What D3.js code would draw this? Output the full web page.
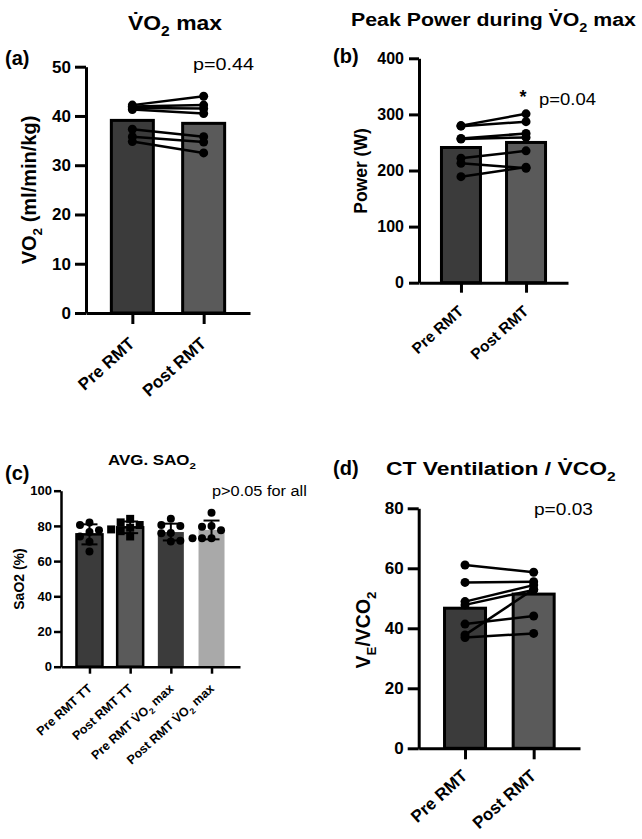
<!DOCTYPE html>
<html>
<head>
<meta charset="utf-8">
<script src="https://cdn.jsdelivr.net/npm/d3@7"></script>
<style>
  body { margin: 0; background: #fff; }
</style>
</head>
<body>
<script>
const FONT = "'Liberation Sans', Arial, Helvetica, sans-serif"

// paired categories used by panels a, b, d
const pairedCats = ['Pre RMT', 'Post RMT']
const pairedFill = ['#3b3b3b', '#5a5a5a']

// (a) VO2 max, ml/min/kg
const vo2Pre = [42.2, 41.9, 41.6, 41.3, 37.3, 35.8, 34.8]
const vo2Post = [44.0, 42.2, 41.5, 40.5, 35.8, 34.7, 32.5]
const vo2Means = [39.1, 38.5]

// (b) peak power, W
const powerPre = [280, 279, 257, 256, 222, 213, 189]
const powerPost = [301, 287, 266, 259, 235, 204, 206]
const powerMeans = [241, 250]

// (c) average SaO2, %
const saoCats = ['Pre RMT TT', 'Post RMT TT', 'Pre RMT V\u0307O_2 max', 'Post RMT V\u0307O_2 max']
const saoPreTT = [82, 80.5, 77.5, 76.5, 74, 71, 65.5]
const saoPostTT = [84, 82, 80.5, 79, 78, 77, 74]
const saoPreVO2 = [84, 80.5, 80, 76, 75.8, 71.5, 71.2]
const saoPostVO2 = [87.5, 80, 79.5, 77.5, 73, 73, 73]
const saoMeans = [75.2, 79.2, 76.5, 77.7]
const saoFill = ['#3b3b3b', '#5a5a5a', '#3b3b3b', '#a9a9a9']

// (d) VE/VCO2
const vePre = [61.1, 55.3, 48.9, 47.8, 41.4, 37.8, 36.9]
const vePost = [58.7, 55.5, 54.4, 52.8, 44.1, 53.0, 38.3]
const veMeans = [46.7, 51.4]

const svg = d3.select('body').append('svg')
  .attr('width', 642).attr('height', 839)
  .style('font-family', FONT)

// text with "_x" subscripts
function rich(text, str, size) {
  text.text(null)
  const parts = str.split(/_(\w)/)
  let shifted = false
  parts.forEach((p, i) => {
    const sub = i % 2 === 1
    if (!p) return
    const t = text.append('tspan').text(p)
    if (sub) {
      t.attr('font-size', size * 0.68).attr('dy', size * 0.3)
      shifted = true
    } else if (shifted) {
      t.attr('dy', -size * 0.3)
      shifted = false
    }
  })
}

// width of a label as laid out, without the combining dot
function measure(str, size, weight) {
  const t = svg.append('text').attr('font-size', size).attr('font-weight', weight)
  rich(t, str.replace(/\u0307/g, ''), size)
  const w = t.node().getComputedTextLength()
  t.remove()
  return w
}

// the figure's lettering runs wider than Arial, so some labels are stretched to a width
function label(x, y, str, size, opts = {}) {
  const weight = opts.weight || 'bold'
  const t = svg.append('text')
    .attr('font-size', size)
    .attr('font-weight', weight)
    .attr('text-anchor', opts.anchor || 'start')
    .attr('fill', '#000')
  rich(t, str, size)
  let sx = 1
  if (opts.width) sx = opts.width / measure(str, size, weight)
  t.attr('transform', `translate(${x},${y}) rotate(${opts.rotate || 0}) scale(${sx},1)`)
  return t
}

function styleAxis(g, o) {
  g.select('.domain').attr('stroke-width', o.stroke)
  g.selectAll('.tick line').attr('stroke-width', o.stroke)
  g.selectAll('.tick text')
    .attr('font-size', o.font)
    .attr('font-weight', 'bold')
    .attr('font-family', FONT)
    .attr('fill', '#000')
}

function drawAxes(o, x, y) {
  svg.append('g')
    .attr('transform', `translate(${o.left},0)`)
    .call(d3.axisLeft(y).tickValues(d3.range(0, o.yMax + 1, o.step)).tickSize(o.tick).tickSizeOuter(0).tickPadding(o.tickPad))
    .call(g => styleAxis(g, { stroke: o.stroke, font: o.tickFont }))

  svg.append('g')
    .attr('transform', `translate(0,${o.bottom})`)
    .call(d3.axisBottom(x).tickSize(o.tick).tickSizeOuter(0))
    .call(g => styleAxis(g, { stroke: o.stroke, font: o.xFont }))
    .selectAll('.tick text')
    .attr('x', 0).attr('y', 0).attr('dy', null)
    .attr('text-anchor', 'end')
    .attr('transform', `translate(${o.lab[0]},${o.lab[1]}) rotate(-42)`)
    .each(function(d) { rich(d3.select(this), d, o.xFont) })
}

function drawPaired(o) {
  const x = d3.scalePoint().domain(pairedCats).range([o.left, o.right]).padding(o.pad)
  const y = d3.scaleLinear().domain([0, o.yMax]).range([o.bottom, o.top])

  svg.append('g').selectAll('rect')
    .data(o.means)
    .join('rect')
    .attr('x', (_, i) => x(pairedCats[i]) - o.barW / 2)
    .attr('y', d => y(d))
    .attr('width', o.barW)
    .attr('height', d => y(0) - y(d))
    .attr('fill', (_, i) => pairedFill[i])
    .attr('stroke', '#000')
    .attr('stroke-width', 3)

  drawAxes(o, x, y)

  svg.append('g').selectAll('line')
    .data(d3.zip(o.pre, o.post))
    .join('line')
    .attr('x1', x(pairedCats[0]))
    .attr('x2', x(pairedCats[1]))
    .attr('y1', d => y(d[0]))
    .attr('y2', d => y(d[1]))
    .attr('stroke', '#000')
    .attr('stroke-width', 2.5)

  const pts = [
    ...o.pre.map(v => [pairedCats[0], v]),
    ...o.post.map(v => [pairedCats[1], v])
  ]
  svg.append('g').selectAll('circle')
    .data(pts)
    .join('circle')
    .attr('cx', d => x(d[0]))
    .attr('cy', d => y(d[1]))
    .attr('r', o.dotR)
    .attr('fill', '#000')
}

// simple beeswarm: horizontal offsets so dots do not overlap
function swarm(values, y, r) {
  const step = 2 * r + 1.5
  const cands = [0, -step, step, -2 * step, 2 * step]
  const placed = []
  return values.map(v => {
    const py = y(v)
    const dx = cands.find(c => placed.every(p => Math.hypot(p[0] - c, p[1] - py) >= 2 * r))
    placed.push([dx, py])
    return dx
  })
}

function drawSao(o) {
  const x = d3.scalePoint().domain(saoCats).range([o.left, o.right]).padding(o.pad)
  const y = d3.scaleLinear().domain([0, o.yMax]).range([o.bottom, o.top])
  const groups = [saoPreTT, saoPostTT, saoPreVO2, saoPostVO2]

  svg.append('g').selectAll('rect')
    .data(saoMeans)
    .join('rect')
    .attr('x', (_, i) => x(saoCats[i]) - o.barW / 2)
    .attr('y', d => y(d))
    .attr('width', o.barW)
    .attr('height', d => y(0) - y(d))
    .attr('fill', (_, i) => saoFill[i])
    .attr('stroke', (_, i) => i < 2 ? '#000' : 'none')
    .attr('stroke-width', 2.5)

  drawAxes(o, x, y)

  // mean +/- SD
  const err = svg.append('g').attr('stroke', '#000').attr('stroke-width', 2)
  groups.forEach((vals, i) => {
    const cx = x(saoCats[i])
    const sd = d3.deviation(vals)
    const m = saoMeans[i]
    err.append('line').attr('x1', cx).attr('x2', cx).attr('y1', y(m - sd)).attr('y2', y(m + sd))
    ;[m - sd, m + sd].forEach(v => {
      err.append('line').attr('x1', cx - 8).attr('x2', cx + 8).attr('y1', y(v)).attr('y2', y(v))
    })
  })

  const dots = svg.append('g').attr('fill', '#000')
  groups.forEach((vals, i) => {
    const cx = x(saoCats[i])
    const offs = swarm(vals, y, o.dotR)
    vals.forEach((v, j) => {
      if (i === 1) {
        dots.append('rect')
          .attr('x', cx + offs[j] - o.dotR).attr('y', y(v) - o.dotR)
          .attr('width', o.dotR * 2).attr('height', o.dotR * 2)
      } else {
        dots.append('circle').attr('cx', cx + offs[j]).attr('cy', y(v)).attr('r', o.dotR)
      }
    })
  })
}

// ---- panel a
drawPaired({
  pre: vo2Pre, post: vo2Post, means: vo2Means,
  yMax: 50, step: 10, left: 86, right: 250, bottom: 313, top: 66.7, pad: 0.65,
  barW: 42, tick: 11, tickPad: 4, stroke: 3, tickFont: 17, xFont: 17, lab: [3, 32], dotR: 4.5
})
label(175, 30, 'V\u0307O_2 max', 21, { anchor: 'middle', width: 94 })
label(5, 65, '(a)', 20)
label(193, 70, 'p=0.44', 16, { weight: 'normal', width: 61 })
label(36, 190, 'VO_2  (ml/min/kg)', 20, { anchor: 'middle', rotate: -90 })

// ---- panel b
drawPaired({
  pre: powerPre, post: powerPost, means: powerMeans,
  yMax: 400, step: 100, left: 419, right: 568, bottom: 282.7, top: 58.3, pad: 0.645,
  barW: 39, tick: 10, tickPad: 5, stroke: 3, tickFont: 16, xFont: 15.5, lab: [3, 30], dotR: 4.5
})
label(493.5, 26, 'Peak Power during V\u0307O_2 max', 19, { anchor: 'middle', width: 285 })
label(333, 63, '(b)', 20)
label(539, 105, 'p=0.04', 16, { weight: 'normal', width: 57 })
label(523, 103, '*', 18, { anchor: 'middle' })
label(367, 171, 'Power (W)', 17.5, { anchor: 'middle', rotate: -90 })

// ---- panel c
drawSao({
  yMax: 100, step: 20, left: 61, right: 240, bottom: 666.7, top: 490.7, pad: 0.7,
  barW: 26, tick: 7, tickPad: 2, stroke: 2.5, tickFont: 13, xFont: 12.5, lab: [3, 23], dotR: 4
})
label(152, 465, 'AVG. SAO_2', 14.5, { anchor: 'middle', width: 88 })
label(5, 480, '(c)', 20)
label(212, 496, 'p>0.05 for all', 15, { weight: 'normal', width: 95 })
label(24, 579, 'SaO2  (%)', 14, { anchor: 'middle', rotate: -90 })

// ---- panel d
drawPaired({
  pre: vePre, post: vePost, means: veMeans,
  yMax: 80, step: 20, left: 418.7, right: 580, bottom: 748.3, top: 508.3, pad: 0.675,
  barW: 41, tick: 11, tickPad: 4, stroke: 3, tickFont: 17, xFont: 17, lab: [3, 29], dotR: 4.5
})
label(386, 475, 'CT Ventilation / V\u0307CO_2', 19, { width: 230 })
label(333, 475, '(d)', 20)
label(534, 515, 'p=0.03', 16, { weight: 'normal', width: 59 })
label(370, 630, 'V_E/VCO_2', 19.5, { anchor: 'middle', rotate: -90 })
</script>
</body>
</html>
